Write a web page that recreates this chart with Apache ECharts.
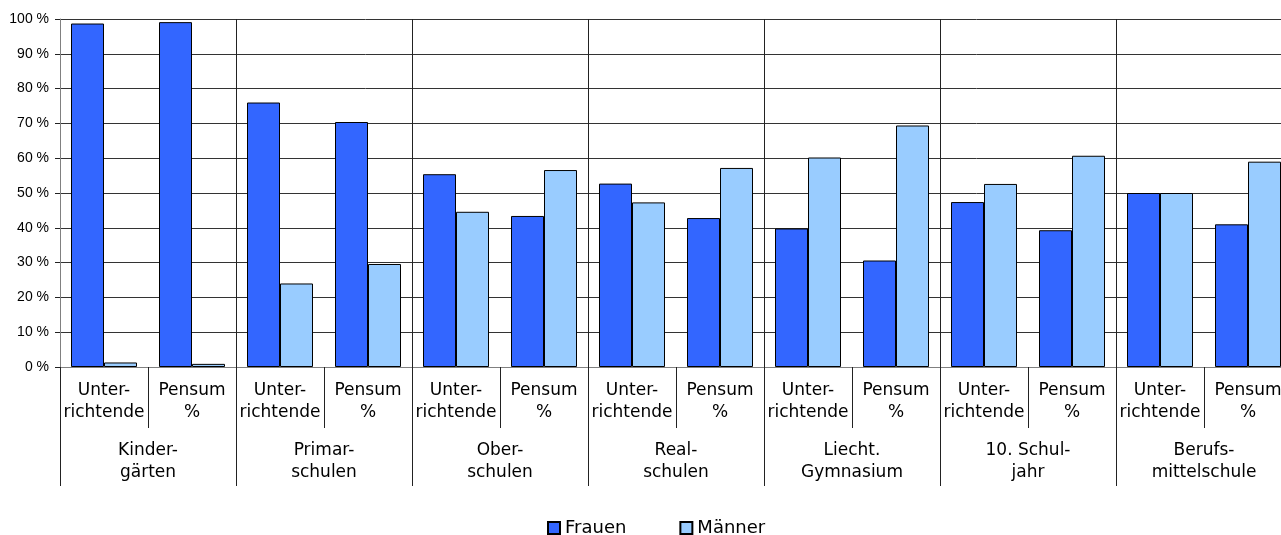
<!DOCTYPE html>
<html>
<head>
<meta charset="utf-8">
<script src="https://cdn.jsdelivr.net/npm/echarts@6/dist/echarts.min.js"></script>
<style>
html,body{margin:0;padding:0;background:#fff;overflow:hidden;}
#chart{width:1281px;height:535px;}
</style>
</head>
<body>
<div id="chart"></div>
<script>
// ---- data ----
const groups = ["Kinder-\ngärten", "Primar-\nschulen", "Ober-\nschulen", "Real-\nschulen", "Liecht.\nGymnasium", "10. Schul-\njahr", "Berufs-\nmittelschule"];
const subCategories = [
  "Unter-\nrichtende", "Pensum\n%",
  "Unter-\nrichtende", "Pensum\n%",
  "Unter-\nrichtende", "Pensum\n%",
  "Unter-\nrichtende", "Pensum\n%",
  "Unter-\nrichtende", "Pensum\n%",
  "Unter-\nrichtende", "Pensum\n%",
  "Unter-\nrichtende", "Pensum\n%"
];
const frauen  = [98.7, 99.1, 76.0, 70.4, 55.4, 43.4, 52.7, 42.8, 39.8, 30.6, 47.4, 39.3, 50.0, 41.0];
const maenner = [1.3, 0.9, 24.0, 29.6, 44.6, 56.6, 47.3, 57.2, 60.2, 69.4, 52.6, 60.7, 50.0, 59.0];
const yTicks = { min: 0, max: 100, interval: 10 };
const seriesNames = ["Frauen", "Männer"];

const catFont = { fontFamily: "DejaVu Sans", fontSize: 17, color: "#000", lineHeight: 22 };

const chart = echarts.init(document.getElementById('chart'), null, { renderer: 'canvas' });
chart.setOption({
  animation: false,
  backgroundColor: '#fff',
  grid: { left: 60, width: 1232, top: 19, height: 348, containLabel: false, outerBoundsMode: 'none' },
  legend: {
    data: seriesNames,
    left: 542,
    top: 514,
    itemWidth: 12,
    itemHeight: 12,
    itemGap: 53,
    icon: 'rect',
    textStyle: { fontFamily: "DejaVu Sans", fontSize: 18, color: "#000" }
  },
  xAxis: [
    {
      type: 'category',
      data: subCategories,
      position: 'bottom',
      axisLine: { show: true, lineStyle: { color: '#808080', width: 1 } },
      axisTick: { show: true, length: 61, interval: 0, lineStyle: { color: '#222' } },
      axisLabel: Object.assign({ interval: 0, margin: 13 }, catFont),
      splitLine: { show: false }
    },
    {
      type: 'category',
      data: groups,
      position: 'bottom',
      axisLine: { show: true, lineStyle: { color: '#808080', width: 1 } },
      axisTick: { show: true, length: 119, interval: 0, lineStyle: { color: '#222' } },
      axisLabel: Object.assign({ interval: 0, margin: 73 }, catFont),
      splitLine: { show: true, interval: 0, lineStyle: { color: '#222', width: 1 } }
    }
  ],
  yAxis: {
    type: 'value',
    min: yTicks.min,
    max: yTicks.max,
    interval: yTicks.interval,
    axisLine: { show: true, lineStyle: { color: '#808080' } },
    axisTick: { show: true, length: 5, lineStyle: { color: '#222' } },
    axisLabel: {
      margin: 11,
      formatter: '{value} %',
      fontFamily: "Liberation Sans",
      fontSize: 14,
      color: '#000'
    },
    splitLine: { show: true, lineStyle: { color: '#333', width: 1 } }
  },
  series: [
    {
      name: seriesNames[0],
      type: 'bar',
      xAxisIndex: 0,
      data: frauen,
      barWidth: 33,
      barGap: '0%',
      itemStyle: { color: '#3366FF', borderColor: '#000', borderWidth: 1 }
    },
    {
      name: seriesNames[1],
      type: 'bar',
      xAxisIndex: 0,
      data: maenner,
      barWidth: 33,
      barGap: '0%',
      itemStyle: { color: '#99CCFF', borderColor: '#000', borderWidth: 1 }
    }
  ]
});
</script>
</body>
</html>
